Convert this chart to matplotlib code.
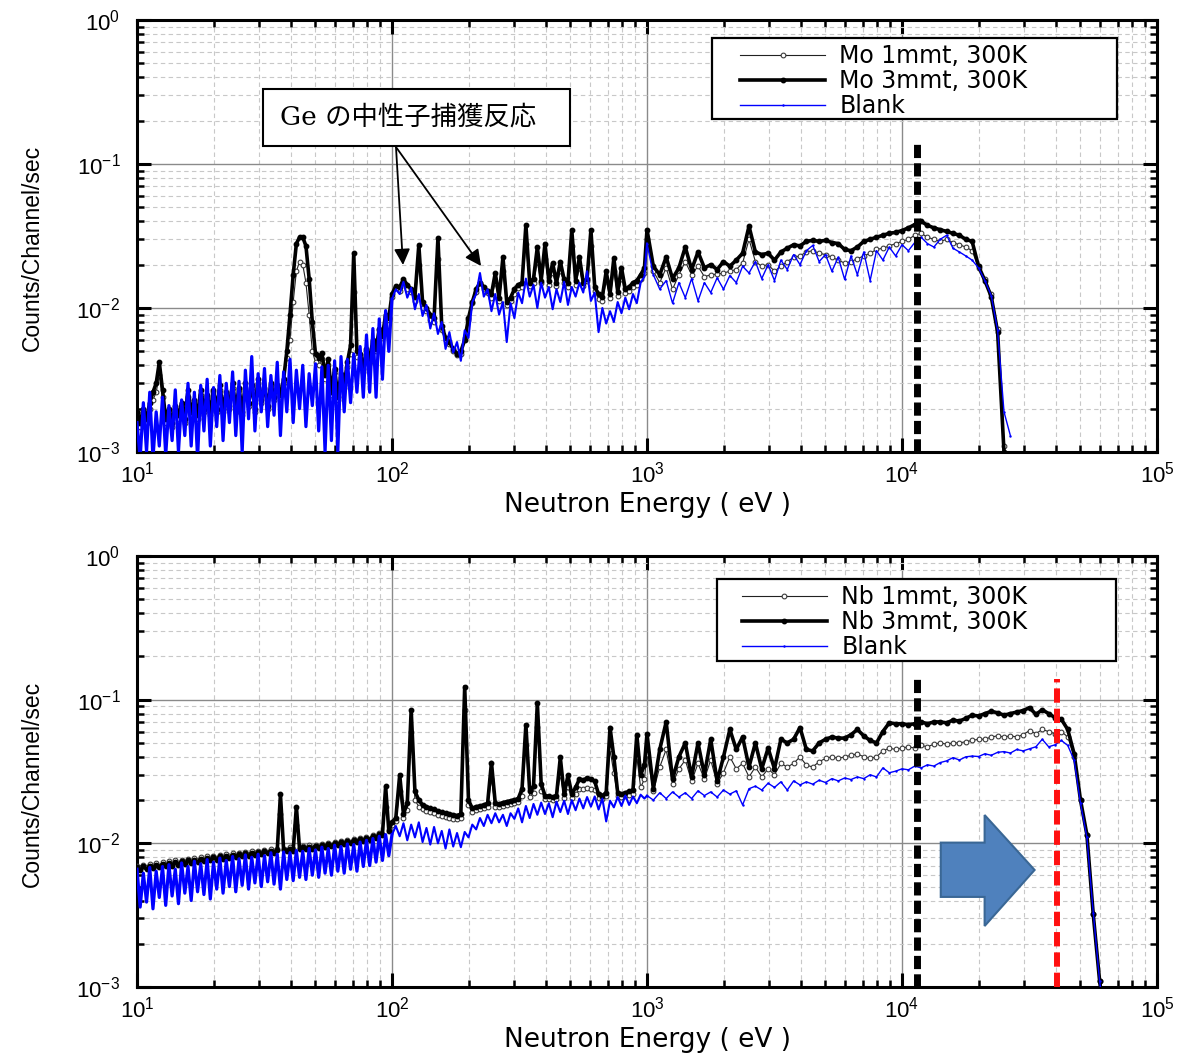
import numpy as np
import matplotlib
matplotlib.use("Agg")
import matplotlib.pyplot as plt
from matplotlib.patches import Polygon, Rectangle
from matplotlib.ticker import LogLocator, LogFormatterMathtext, NullFormatter

plt.rcParams['mathtext.fontset'] = 'custom'
plt.rcParams['mathtext.rm'] = 'Liberation Sans'
plt.rcParams['mathtext.it'] = 'Liberation Sans:italic'
plt.rcParams['mathtext.default'] = 'regular'

# ---------------------------------------------------------------------------
# Neutron energy channels (eV)
# ---------------------------------------------------------------------------
e_low = [10.0, 10.29, 10.59, 10.9, 11.22, 11.55, 11.89, 12.23, 12.59, 12.96,
         13.34, 13.73, 14.13, 14.54, 14.96, 15.4, 15.85, 16.31, 16.79, 17.28,
         17.78, 18.3, 18.84, 19.39, 19.95, 20.54, 21.13, 21.75, 22.39, 23.04,
         23.71, 24.4, 25.12, 25.85, 26.61, 27.38, 28.18, 29.0, 29.85, 30.72,
         31.62, 32.54, 33.5, 34.47, 35.48, 36.52, 37.58, 38.68, 39.81, 40.97,
         42.17, 43.4, 44.67, 45.97, 47.32, 48.7, 50.12, 51.58, 53.09, 54.64,
         56.23, 57.88, 59.57, 61.31, 63.1, 64.94, 66.83, 68.79, 70.79, 72.86,
         74.99, 77.18, 79.43, 81.75, 84.14, 86.6, 89.13, 91.73, 94.41, 97.16]
e_mid = [100.0, 103.5, 107.2, 110.9, 114.8, 118.9, 123.0, 127.4, 131.8, 136.5,
         141.3, 146.2, 151.4, 156.7, 162.2, 167.9, 173.8, 179.9, 186.2, 192.8,
         199.5, 206.5, 213.8, 221.3, 229.1, 237.1, 245.5, 254.1, 263.0, 272.3,
         281.8, 291.7, 302.0, 312.6, 323.6, 335.0, 346.7, 358.9, 371.5, 384.6,
         398.1, 412.1, 426.6, 441.6, 457.1, 473.2, 489.8, 507.0, 524.8, 543.3,
         562.3, 582.1, 602.6, 623.7, 645.7, 668.3, 691.8, 716.1, 741.3, 767.4,
         794.3, 822.2, 851.1, 881.0, 912.0, 944.1, 977.2]
e_high = [1000, 1059, 1122, 1189, 1259, 1334, 1413, 1496, 1585, 1679,
          1778, 1884, 1995, 2113, 2239, 2371, 2512, 2661, 2818, 2985,
          3162, 3350, 3548, 3758, 3981, 4217, 4467, 4732, 5012, 5309,
          5623, 5957, 6310, 6683, 7079, 7499, 7943, 8414, 8913, 9441,
          10000, 10593, 11220, 11885, 12589, 13335, 14125, 14962, 15849, 16788,
          17783, 18836, 19953, 21135, 22387, 23714, 25119, 26607, 28184, 29854,
          31623, 33497, 35481, 37584, 39811, 42170, 44668, 47315, 50119, 53088,
          56234, 59566, 63096]
n_high_mo = 58  # Mo runs stop at ~27 keV

# ---------------------------------------------------------------------------
# Count rates, in units of 1e-3 counts/channel/sec
# ---------------------------------------------------------------------------
# Mo 1mmt
mo1_low = [1.8, 1.5, 1.9, 1.6, 2.0, 2.3, 2.6, 3.4, 2.4, 1.6,
           1.9, 1.5, 2.0, 1.7, 2.1, 1.6, 2.4, 1.8, 2.2, 1.7,
           2.5, 1.9, 2.4, 1.8, 2.6, 1.9, 2.7, 1.9, 2.5, 2.0,
           2.8, 1.9, 2.7, 1.8, 2.8, 2.1, 2.8, 1.9, 3.0, 2.2,
           2.7, 2.0, 2.9, 2.3, 2.8, 2.4, 3.0, 4.5, 6.0, 11.0,
           18.0, 21.0, 20.0, 15.0, 9.0, 5.0, 4.2, 4.0, 4.4, 3.2,
           4.0, 2.5, 3.6, 2.3, 3.3, 2.8, 3.9, 4.8, 13.0, 4.6,
           4.5, 3.6, 5.0, 4.2, 5.8, 5.0, 7.0, 6.2, 8.6, 8.2]
mo1_mid = [12.0, 13.8, 13.2, 15.0, 13.5, 13.0, 11.2, 20.0, 10.0, 9.5,
           8.2, 8.0, 22.0, 7.0, 6.0, 5.6, 5.0, 4.7, 4.8, 6.2,
           8.2, 10.8, 13.0, 15.0, 13.5, 12.8, 11.8, 15.0, 11.2, 18.0,
           10.5, 11.2, 12.5, 13.8, 14.0, 28.0, 14.2, 15.0, 21.0, 14.8,
           22.0, 14.5, 17.5, 14.2, 18.0, 15.0, 14.0, 27.0, 14.5, 19.0,
           14.2, 15.5, 27.0, 13.2, 11.5, 11.2, 15.5, 11.8, 18.0, 12.2,
           16.0, 12.8, 13.2, 14.0, 14.5, 16.0, 17.5]
mo1_high = [30.0, 18.0, 15.0, 19.0, 13.5, 17.0, 21.0, 17.0, 19.5, 16.5,
            17.0, 17.2, 17.5, 18.0, 18.5, 20.5, 30.0, 21.0, 19.5, 20.0,
            18.0, 19.5, 21.0, 22.5, 23.0, 24.5, 25.0, 24.0, 23.5, 22.5,
            21.5, 20.5, 21.0, 22.0, 23.0, 24.0, 25.5, 26.0, 27.0, 28.0,
            29.0, 30.0, 32.0, 33.0, 31.0, 30.0, 29.0, 30.0, 28.5, 27.5,
            26.5, 25.0, 19.0, 15.8, 12.5, 7.2, 1.1, 0.6]
# Mo 3mmt
mo3_low = [1.9, 1.6, 2.0, 1.7, 2.2, 2.6, 3.0, 4.2, 2.7, 1.7,
           2.0, 1.6, 2.1, 1.8, 2.2, 1.7, 2.7, 1.9, 2.3, 1.8,
           2.7, 2.0, 2.5, 1.9, 2.7, 2.0, 2.9, 2.0, 2.6, 2.1,
           3.0, 2.0, 2.8, 1.9, 3.0, 2.2, 2.9, 2.0, 3.2, 2.3,
           2.8, 2.1, 3.0, 2.4, 2.9, 2.5, 3.2, 5.0, 9.0, 17.0,
           28.0, 31.0, 31.0, 27.0, 16.0, 8.0, 4.8, 4.5, 4.9, 3.4,
           4.4, 2.6, 3.8, 2.4, 3.5, 2.9, 4.2, 5.5, 24.0, 5.0,
           4.8, 3.8, 5.2, 4.4, 6.0, 5.2, 7.2, 6.4, 9.0, 8.5]
mo3_mid = [12.5, 14.2, 14.0, 15.8, 14.5, 13.5, 12.0, 27.4, 11.0, 10.0,
           9.0, 8.5, 30.6, 7.5, 6.2, 5.8, 5.2, 4.8, 5.0, 6.0,
           8.5, 11.0, 13.5, 15.0, 14.0, 13.2, 12.5, 17.5, 11.8, 22.6,
           11.0, 11.8, 13.5, 14.5, 15.0, 37.7, 15.0, 16.0, 26.5, 15.5,
           28.0, 15.5, 20.5, 15.0, 21.0, 15.8, 15.0, 34.8, 15.5, 22.6,
           15.0, 16.0, 34.8, 14.0, 12.5, 12.0, 18.0, 12.5, 22.2, 13.0,
           19.0, 13.5, 14.0, 15.0, 15.5, 17.0, 19.0]
mo3_high = [35.0, 19.5, 17.0, 22.6, 16.0, 19.0, 26.5, 18.5, 24.5, 19.0,
            20.0, 18.5, 21.0, 19.5, 21.5, 24.0, 37.0, 24.5, 23.5, 24.0,
            21.5, 24.5, 26.0, 27.5, 27.0, 29.0, 29.5, 29.0, 29.5, 28.5,
            28.0, 25.5, 25.0, 26.5, 29.0, 30.0, 31.0, 32.0, 33.0, 33.5,
            34.5, 36.0, 38.0, 40.0, 37.5, 36.0, 35.0, 34.0, 33.0, 32.0,
            30.0, 29.0, 19.5, 15.5, 12.0, 6.8, 1.0, 0.6]
# Blank (Mo run)
mo_blank_low = [1.6, 0.9, 2.2, 1.0, 2.6, 0.9, 1.9, 1.1, 2.4, 0.95,
                2.1, 1.2, 2.7, 1.0, 2.3, 1.3, 3.0, 1.1, 2.6, 0.9,
                2.9, 1.4, 3.2, 1.1, 2.8, 1.5, 3.4, 1.2, 3.0, 1.6,
                3.6, 1.3, 3.1, 1.0, 3.7, 1.7, 4.6, 1.4, 3.5, 1.9,
                3.8, 1.5, 3.4, 1.8, 4.2, 1.3, 3.6, 1.9, 4.4, 1.6,
                3.7, 2.0, 4.0, 1.5, 3.5, 2.1, 4.1, 1.4, 3.9, 1.0,
                4.0, 1.2, 4.3, 1.0, 4.6, 1.9, 4.4, 2.2, 4.8, 2.6,
                5.4, 2.4, 6.5, 2.6, 7.2, 2.4, 8.4, 3.2, 9.6, 5.0]
mo_blank_mid = [11.5, 13.5, 12.5, 15.2, 11.8, 13.8, 9.8, 12.5, 8.8, 10.5,
                7.2, 9.2, 6.6, 8.0, 5.2, 6.8, 4.9, 5.8, 4.3, 7.0,
                6.2, 11.0, 12.5, 17.5, 12.0, 13.5, 9.5, 12.5, 9.0, 11.0,
                5.8, 10.8, 8.5, 12.8, 10.8, 16.0, 12.0, 14.5, 10.0, 15.0,
                11.8, 14.0, 9.8, 13.5, 11.0, 15.2, 10.5, 14.0, 12.0, 15.0,
                12.8, 18.0, 11.2, 12.8, 6.8, 10.0, 7.8, 9.5, 8.0, 11.0,
                9.2, 11.8, 9.8, 12.5, 10.8, 15.0, 16.5]
mo_blank_high = [28.0, 17.0, 13.5, 15.5, 10.8, 15.0, 11.8, 16.0, 11.2, 15.0,
                 12.8, 16.2, 13.5, 16.8, 15.0, 19.5, 17.5, 21.0, 16.0, 20.0,
                 15.5, 21.5, 18.5, 23.5, 20.0, 25.0, 27.2, 21.0, 23.5, 18.0,
                 22.5, 15.8, 23.0, 17.0, 24.5, 15.5, 25.0, 21.5, 26.5, 23.0,
                 27.5, 25.0, 28.5, 31.0, 28.0, 26.5, 30.0, 32.0, 26.0, 24.5,
                 23.0, 21.5, 19.0, 15.5, 12.2, 7.0, 1.9, 1.3]

# Nb 1mmt
nb1_low = [7.0, 6.7, 7.1, 6.8, 7.2, 6.9, 7.3, 7.0, 7.4, 7.1,
           7.5, 7.2, 7.6, 7.3, 7.7, 7.4, 7.8, 7.5, 7.9, 7.6,
           8.0, 7.7, 8.1, 7.8, 8.2, 7.9, 8.3, 8.0, 8.4, 8.1,
           8.5, 8.2, 8.6, 8.3, 8.7, 8.4, 8.8, 8.5, 8.9, 8.6,
           9.0, 8.7, 9.1, 8.8, 9.2, 16.0, 9.2, 9.0, 9.4, 9.1,
           13.5, 9.3, 9.6, 9.3, 9.7, 9.4, 9.8, 9.5, 9.9, 9.6,
           10.1, 9.8, 10.2, 9.9, 10.4, 10.1, 10.5, 10.2, 10.7, 10.4,
           10.9, 10.6, 11.1, 10.8, 11.4, 11.1, 11.8, 11.7, 18.0, 12.4]
nb1_mid = [13.5, 14.2, 23.0, 15.0, 17.0, 60.0, 20.0, 18.0, 17.2, 16.8,
           16.5, 16.2, 15.8, 15.5, 15.3, 15.0, 14.8, 14.7, 15.0, 85.0,
           18.5, 16.5, 17.0, 17.2, 17.5, 18.0, 28.0, 18.0, 17.8, 18.2,
           18.5, 18.8, 19.0, 19.5, 21.5, 48.0, 21.0, 22.5, 65.0, 23.0,
           20.5, 20.2, 20.0, 20.5, 30.0, 20.8, 24.5, 20.8, 22.0, 24.0,
           23.8, 24.2, 24.0, 23.5, 20.8, 20.5, 21.2, 45.0, 31.0, 21.2,
           21.0, 21.4, 21.8, 22.2, 40.0, 24.5, 28.0]
nb1_high = [42.0, 23.0, 34.0, 45.0, 26.0, 33.0, 38.0, 27.0, 36.0, 28.0,
            38.0, 26.0, 31.0, 40.0, 33.0, 36.0, 29.0, 34.0, 29.0, 33.0,
            30.0, 36.0, 34.0, 36.0, 40.0, 35.0, 34.0, 37.0, 39.0, 40.0,
            39.0, 40.0, 41.0, 42.0, 40.0, 39.0, 40.0, 44.0, 46.0, 45.0,
            46.0, 47.0, 46.0, 48.0, 47.0, 49.0, 50.0, 49.0, 50.0, 50.0,
            51.0, 52.0, 53.0, 53.0, 55.0, 56.0, 55.0, 56.0, 55.0, 57.0,
            61.0, 58.0, 62.0, 60.0, 58.0, 60.0, 55.0, 40.0, 20.0, 11.5,
            3.2, 1.1, 0.5]
# Nb 3mmt
nb3_low = [6.8, 6.5, 6.9, 6.6, 7.0, 6.7, 7.1, 6.8, 7.2, 6.9,
           7.3, 7.0, 7.4, 7.1, 7.5, 7.2, 7.6, 7.3, 7.7, 7.4,
           7.8, 7.5, 7.9, 7.6, 8.0, 7.7, 8.1, 7.8, 8.2, 7.9,
           8.3, 8.0, 8.4, 8.1, 8.5, 8.2, 8.6, 8.3, 8.7, 8.4,
           8.8, 8.5, 8.9, 8.6, 9.0, 21.9, 9.0, 8.8, 9.2, 8.9,
           18.0, 9.1, 9.4, 9.1, 9.5, 9.2, 9.6, 9.3, 9.7, 9.4,
           9.9, 9.6, 10.0, 9.7, 10.2, 9.9, 10.3, 10.0, 10.5, 10.2,
           10.7, 10.4, 10.9, 10.6, 11.2, 10.9, 11.6, 11.5, 24.9, 12.2]
nb3_mid = [14.0, 15.0, 30.0, 16.0, 19.0, 85.0, 23.0, 20.0, 18.5, 18.0,
           17.5, 17.2, 16.8, 16.5, 16.2, 16.0, 15.8, 15.6, 16.0, 123.0,
           20.0, 17.5, 18.0, 18.2, 18.5, 19.0, 36.5, 19.0, 18.8, 19.2,
           19.5, 19.8, 20.0, 20.5, 24.0, 67.0, 23.0, 25.0, 95.0, 26.0,
           21.5, 21.2, 21.0, 21.5, 39.6, 22.0, 29.7, 22.0, 24.5, 28.0,
           27.5, 28.5, 28.0, 27.0, 22.0, 21.5, 22.5, 64.0, 40.0, 22.5,
           22.0, 22.5, 23.0, 23.5, 57.0, 30.0, 35.0]
nb3_high = [58.0, 24.0, 45.0, 70.0, 28.0, 40.0, 50.0, 29.0, 50.0, 30.0,
            53.0, 27.0, 40.0, 62.0, 45.0, 55.0, 34.0, 50.0, 33.0, 46.0,
            33.0, 53.0, 50.0, 53.0, 64.0, 45.0, 44.0, 50.0, 53.0, 55.0,
            54.0, 54.0, 57.0, 62.0, 56.0, 52.0, 50.0, 60.0, 69.0, 68.0,
            68.0, 67.0, 68.0, 70.0, 68.0, 70.0, 70.0, 69.0, 72.0, 71.0,
            74.0, 78.0, 77.0, 80.0, 83.0, 81.0, 78.0, 80.0, 82.0, 84.0,
            88.0, 79.0, 85.0, 80.0, 75.0, 73.0, 62.0, 42.0, 20.0, 11.5,
            3.2, 1.1, 0.5]
# Blank (Nb run)
nb_blank_low = [6.6, 3.6, 6.2, 3.9, 6.8, 3.5, 6.4, 4.2, 6.9, 3.7,
                7.1, 4.3, 6.6, 3.8, 7.3, 4.5, 6.9, 4.0, 7.5, 4.6,
                7.2, 4.4, 7.7, 4.1, 7.4, 4.8, 7.9, 4.5, 7.6, 5.0,
                8.1, 4.6, 7.8, 5.1, 8.3, 4.8, 8.0, 5.3, 8.4, 5.0,
                8.2, 5.4, 8.6, 5.2, 8.4, 4.8, 8.7, 5.6, 8.6, 5.5,
                8.9, 5.8, 8.8, 5.6, 9.2, 6.0, 9.0, 5.8, 9.4, 6.2,
                9.2, 6.0, 9.7, 6.4, 9.5, 6.2, 9.9, 6.6, 9.8, 6.4,
                10.2, 6.9, 10.5, 7.0, 10.8, 7.4, 11.2, 7.6, 11.5, 8.2]
nb_blank_mid = [11.5, 13.2, 11.2, 13.8, 10.5, 13.5, 11.0, 14.0, 10.2, 12.8,
                9.8, 13.0, 10.0, 12.2, 9.2, 12.5, 9.5, 11.8, 9.4, 12.0,
                11.0, 13.5, 12.5, 15.0, 13.2, 15.8, 13.8, 16.2, 14.0, 15.8,
                13.2, 16.2, 14.8, 17.5, 14.0, 18.2, 15.0, 18.8, 15.8, 19.2,
                16.0, 19.0, 15.2, 19.5, 16.5, 19.8, 16.0, 20.0, 17.0, 20.5,
                17.5, 21.0, 18.0, 21.2, 17.2, 20.5, 14.2, 19.8, 17.8, 21.0,
                18.2, 21.5, 18.5, 21.2, 19.0, 21.8, 20.5]
nb_blank_high = [21.5, 20.0, 22.5, 20.5, 22.8, 21.0, 22.5, 20.5, 23.2, 21.5,
                 22.8, 21.0, 23.5, 22.0, 23.2, 18.5, 24.0, 25.0, 23.5, 26.2,
                 24.5, 26.8, 23.5, 27.2, 25.5, 26.8, 25.8, 27.5, 26.5, 28.2,
                 27.2, 28.5, 27.8, 29.0, 28.2, 30.0, 29.0, 33.5, 31.0, 31.8,
                 33.0, 32.5, 34.5, 33.5, 35.2, 34.5, 36.5, 37.5, 39.5, 38.0,
                 40.0, 40.5, 40.2, 42.0, 41.0, 43.0, 43.5, 42.5, 45.0, 44.0,
                 45.5, 47.0, 53.0, 47.0, 48.5, 52.0, 48.0, 38.0, 19.0, 11.0,
                 3.3, 1.1, 0.5]

UNIT = 1e-3  # counts/channel/sec per listed unit

mo_labels = ['Mo 1mmt, 300K', 'Mo 3mmt, 300K', 'Blank']
nb_labels = ['Nb 1mmt, 300K', 'Nb 3mmt, 300K', 'Blank']
ge_note = 'Ge の中性子捕獲反応'

# reference energies (eV) and height of the marker lines
mo_cut_energy = 11400
nb_cut_energy = 11400
nb_edge_energy = 40500
cut_line_top = 0.14

# ---------------------------------------------------------------------------
e_mo = np.array(e_low + e_mid + e_high[:n_high_mo], dtype=float)
e_nb = np.array(e_low + e_mid + e_high, dtype=float)
mo1 = np.array(mo1_low + mo1_mid + mo1_high) * UNIT
mo3 = np.array(mo3_low + mo3_mid + mo3_high) * UNIT
mo_blank = np.array(mo_blank_low + mo_blank_mid + mo_blank_high) * UNIT
nb1 = np.array(nb1_low + nb1_mid + nb1_high) * UNIT
nb3 = np.array(nb3_low + nb3_mid + nb3_high) * UNIT
nb_blank = np.array(nb_blank_low + nb_blank_mid + nb_blank_high) * UNIT
n_lo = len(e_low)                 # channels below 100 eV
n_dense = len(e_low) + len(e_mid)  # channels below 1 keV

W, H = 1182, 1055
fig = plt.figure(figsize=(W / 100, H / 100), dpi=100)
ax_mo = fig.add_axes([137 / W, 1 - 452 / H, 1020 / W, 432 / H])
ax_nb = fig.add_axes([137 / W, 1 - 987 / H, 1020 / W, 431 / H])


def style_axes(ax):
    ax.set_xscale('log')
    ax.set_yscale('log')
    ax.set_xlim(10, 1e5)
    ax.set_ylim(1e-3, 1)
    for axis in (ax.xaxis, ax.yaxis):
        axis.set_major_locator(LogLocator(base=10, numticks=12))
        axis.set_minor_locator(LogLocator(base=10, subs=np.arange(2, 10), numticks=40))
        axis.set_major_formatter(LogFormatterMathtext())
        axis.set_minor_formatter(NullFormatter())
    ax.grid(which='major', color='#8a8a8a', lw=1.0, ls='-')
    ax.grid(which='minor', color='#c8c8c8', lw=0.8, ls=(0, (4, 3)))
    ax.set_axisbelow(True)
    ax.tick_params(which='both', direction='in', top=True, right=True,
                   labelsize=16, labelfontfamily='Liberation Sans')
    ax.tick_params(which='major', length=10, width=2.2)
    ax.tick_params(which='minor', length=5, width=1.8)
    ax.tick_params(axis='x', which='major', pad=7)
    ax.tick_params(axis='y', which='major', pad=12)
    for s in ax.spines.values():
        s.set_linewidth(2.2)
    ax.set_xlabel('Neutron Energy ( eV )', fontsize=19, family='DejaVu Sans')
    ax.xaxis.label.set_va('center')
    ax.set_ylabel('Counts/Channel/sec', fontsize=16.5, family='Liberation Sans')
    ax.yaxis.label.set_va('center')


def draw_spectra(ax, energy, s1, s3, blank, labels):
    h1, = ax.plot(energy, s1, color='#222222', lw=0.8, marker='o', ms=3.4,
                  mfc='white', mec='#3a3a3a', mew=0.8, zorder=3, label=labels[0])
    h3, = ax.plot(energy, s3, color='black', lw=2.6, marker='o', ms=3.2,
                  mfc='black', mec='black', zorder=4, label=labels[1])
    # densely packed low-energy channels merge into a solid band
    ax.plot(energy[:n_lo + 1], blank[:n_lo + 1], color='#0000ff', lw=2.3,
            zorder=5)
    ax.plot(energy[n_lo:n_dense + 1], blank[n_lo:n_dense + 1], color='#0000ff',
            lw=1.5, zorder=5)
    hb, = ax.plot(energy[n_dense:], blank[n_dense:], color='#0000ff', lw=1.0,
                  marker='.', ms=1.5, zorder=5, label=labels[2])
    return [h1, h3, hb]


def add_legend(ax, handles, frame_box, anchor):
    ax.add_patch(Rectangle(frame_box[:2], frame_box[2], frame_box[3],
                           transform=ax.transAxes, fc='white', ec='black',
                           lw=1.6, zorder=8))
    leg = ax.legend(handles=handles, loc='upper left', bbox_to_anchor=anchor,
                    frameon=False, borderpad=0, borderaxespad=0,
                    labelspacing=0.04, handlelength=3.6, handletextpad=0.6,
                    prop={'family': 'DejaVu Sans', 'size': 17})
    leg.set_zorder(9)


# ---------------- Mo panel ----------------
style_axes(ax_mo)
ax_mo.xaxis.set_label_coords(0.5, -0.123)
ax_mo.yaxis.set_label_coords(-0.103, 0.472)
hs = draw_spectra(ax_mo, e_mo, mo1, mo3, mo_blank, mo_labels)
ax_mo.plot([mo_cut_energy, mo_cut_energy], [1e-3, cut_line_top], color='black',
           lw=5, ls=(0, (1.9, 0.75)), solid_capstyle='butt', zorder=7)
add_legend(ax_mo, hs, (0.5637, 0.7708, 0.3971, 0.1875), (0.5912, 0.944))

ax_mo.add_patch(Rectangle((0.1235, 0.708), 0.301, 0.132, transform=ax_mo.transAxes,
                          fc='white', ec='black', lw=1.5, zorder=8))
ax_mo.text(0.1402, 0.775, ge_note, transform=ax_mo.transAxes, ha='left', va='center',
           fontsize=19, family=['DejaVu Serif', 'Noto Sans CJK JP'], zorder=9)
for tip in [(0.2608, 0.4329), (0.3373, 0.4306)]:
    ax_mo.annotate('', xy=tip, xytext=(0.2539, 0.706), xycoords='axes fraction',
                   arrowprops=dict(arrowstyle='-|>', color='black', lw=1.3,
                                   mutation_scale=24, shrinkA=0, shrinkB=0),
                   zorder=9)

# ---------------- Nb panel ----------------
style_axes(ax_nb)
ax_nb.xaxis.set_label_coords(0.5, -0.123)
ax_nb.yaxis.set_label_coords(-0.103, 0.471)
hs = draw_spectra(ax_nb, e_nb, nb1, nb3, nb_blank, nb_labels)
ax_nb.plot([nb_cut_energy, nb_cut_energy], [1e-3, cut_line_top], color='black',
           lw=5, ls=(0, (1.9, 0.75)), solid_capstyle='butt', zorder=7)
ax_nb.plot([nb_edge_energy, nb_edge_energy], [1e-3, cut_line_top], color='#ff1010',
           lw=4.3, ls=(0, (2.4, 1.0)), solid_capstyle='butt', zorder=7)
add_legend(ax_nb, hs, (0.5686, 0.7564, 0.3912, 0.1903), (0.5931, 0.932))

arrow_shape = [(0.788, 0.209), (0.788, 0.335), (0.831, 0.335), (0.831, 0.399),
               (0.880, 0.2715), (0.831, 0.1415), (0.831, 0.209)]
ax_nb.add_patch(Polygon(arrow_shape, closed=True, transform=ax_nb.transAxes,
                        fc='#4f81bd', ec='#3a6795', lw=1.5, zorder=8))

fig.savefig('out.png', dpi=100)
